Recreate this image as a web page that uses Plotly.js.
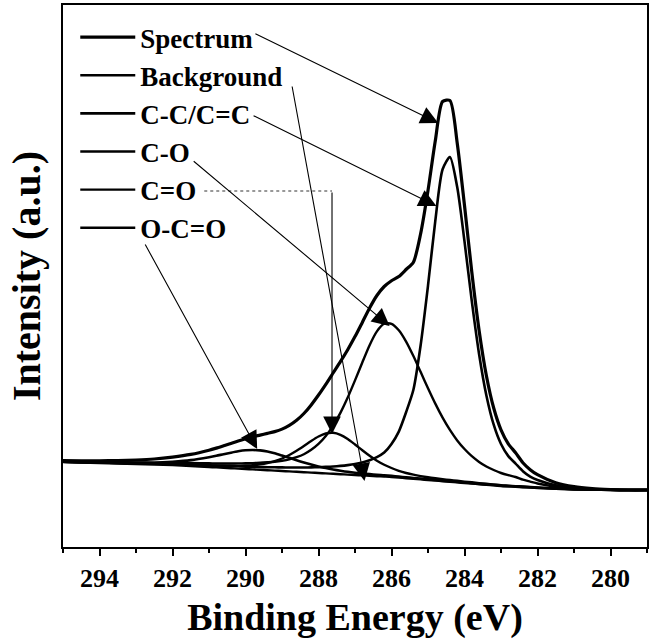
<!DOCTYPE html>
<html>
<head>
<meta charset="utf-8">
<script src="https://cdn.plot.ly/plotly-3.0.1.min.js"></script>
<style>html,body{margin:0;padding:0;background:#fff;}#chart{width:650px;height:644px;}</style>
</head>
<body>
<div id="chart"></div>
<script>
// Binding energy grid (eV)
const energy = [295,294.5,294,293.5,293,292.5,292,291.5,
  291.0,290.8,290.6,290.4,290.2,290.0,289.8,289.6,289.4,289.2,289.0,288.8,288.6,288.4,288.2,288.0,
  287.8,287.6,287.4,287.2,287.0,286.8,286.6,286.4,286.2,286.0,285.8,285.6,285.4,285.2,285.0,284.8,
  284.6,284.4,284.2,284.0,283.8,283.6,283.4,283.2,283.0,282.8,282.6,282.4,282.2,282.0,
  281.5,281.0,280.5,280.0,279.5,279.0];

// Intensities (a.u.)
const spectrum = [86.3,86.2,86.2,86.5,87.0,88.0,89.9,92.6,
  96.8,98.9,101.2,103.5,106.0,108.3,110.2,111.9,113.6,115.4,117.9,121.6,126.7,133.5,142.1,152.0,
  162.7,174.0,185.3,197.3,210.4,224.6,239.0,251.5,260.5,266.3,270.5,277.5,284.8,313.6,356.5,406.2,
  445.5,446.5,404.1,341.5,275.0,216.6,171.3,139.0,117.2,103.2,94.2,84.3,77.3,72.3,
  64.3,60.3,58.4,57.5,57.0,57.0];

const background = [85,84.5,84,83.5,83,82.5,82,81,
  80,79.6,79.2,78.8,78.4,78,77.6,77.2,76.8,76.4,76,75.6,75.2,74.8,74.4,74,
  73.6,73.2,72.8,72.4,72,71.6,71.2,70.8,70.4,70,69.4,68.8,68.2,67.6,67,66.4,
  65.8,65.2,64.6,64,63.4,62.8,62.2,61.6,61,60.6,60.2,59.8,59.4,59,
  58.2,57.5,57.2,57,57,57];

const ccPeak = [85.3,84.9,84.5,84.1,83.8,83.5,83.2,82.5,
  81.7,81.4,81.2,80.9,80.7,80.4,80.2,80.0,79.8,79.7,79.6,79.5,79.5,79.5,79.6,79.8,
  80.1,80.5,81.1,81.9,83.0,84.6,86.7,89.8,94.4,103.0,115.4,134.8,157.2,202.2,261.3,326.2,
  377.7,389.9,360.0,305.6,245.9,192.8,151.6,122.3,103.0,90.9,83.4,75.8,70.4,67.0,
  61.7,59.0,57.8,57.2,57,57];

const coPeak = [85.5,85.2,84.9,84.7,84.5,84.4,84.4,84.0,
  83.7,83.6,83.5,83.5,83.6,83.7,83.9,84.2,84.7,85.3,86.3,87.7,89.8,92.8,97.2,103.1,
  111.0,121.4,134.1,149.4,166.6,184.5,201.8,215.6,223.3,223.2,216.7,205.4,190.9,174.9,158.8,143.4,
  129.4,117.1,106.6,98.0,90.8,85.1,80.5,77.0,74.0,71.8,70.0,67.3,65.4,63.5,
  60.2,58.3,57.5,57.1,57,57];

const cdoPeak = [85.2,84.8,84.3,84.0,83.6,83.3,83.0,82.3,
  81.7,81.5,81.3,81.2,81.2,81.5,81.9,82.7,84.0,85.9,88.5,92.0,96.2,101.0,106.0,110.5,
  113.5,114.2,112.2,108.0,102.5,96.7,91.2,86.3,82.3,79.0,76.2,74.0,72.3,70.9,69.7,68.7,
  67.8,67.0,66.2,65.4,64.7,63.9,63.2,62.6,61.9,61.4,60.9,60.5,60.0,59.6,
  58.6,57.8,57.4,57.1,57,57];

const ocdoPeak = [85.3,84.9,84.5,84.2,84.1,84.3,85.3,86.9,
  89.8,91.2,92.8,94.3,95.7,96.7,97.0,96.6,95.5,93.7,91.5,89.2,86.8,84.6,82.5,80.6,
  78.9,77.5,76.3,75.2,74.3,73.6,72.9,72.2,71.7,71.1,70.4,69.7,69.0,68.4,67.7,67.1,
  66.4,65.8,65.1,64.5,63.9,63.2,62.6,62.0,61.4,60.9,60.5,60.1,59.7,59.3,
  58.4,57.7,57.3,57.1,57,57];

const seriesNames = ['Spectrum','Background','C-C/C=C','C-O','C=O','O-C=O'];
const seriesData = [spectrum, background, ccPeak, coPeak, cdoPeak, ocdoPeak];
const seriesWidths = [3.2, 2.4, 2.6, 2.4, 2.4, 2.6];

// Label arrows: [tip energy, tip intensity, tail energy, tail intensity]
const arrowTips = [
  [284.72, 424, 289.77, 514],
  [286.74, 66, 288.73, 462],
  [284.77, 341, 289.82, 432],
  [286.05, 221, 291.46, 387],
  [287.63, 113, 287.63, 356],
  [289.68, 98, 292.77, 304]
];
const cdoElbow = [[291.13, 356], [287.63, 356]];

const serif = 'Liberation Serif, Times New Roman, serif';

const traces = seriesNames.map((n, i) => ({
  x: energy, y: seriesData[i], type: 'scatter', mode: 'lines', name: n,
  line: {color: '#000', width: seriesWidths[i], shape: 'spline', smoothing: 0.7}
}));

const annotations = arrowTips.map(a => ({
  x: a[0], y: a[1], ax: a[2], ay: a[3], xref: 'x', yref: 'y', axref: 'x', ayref: 'y',
  text: '', showarrow: true, arrowhead: 2, arrowsize: 3.2, arrowwidth: 1.1, arrowcolor: '#000', standoff: 0
}));

const shapes = [{
  type: 'line', xref: 'x', yref: 'y',
  x0: cdoElbow[0][0], y0: cdoElbow[0][1], x1: cdoElbow[1][0], y1: cdoElbow[1][1],
  line: {color: '#333', width: 1.2, dash: 'dot'}
}];

const layout = {
  width: 650, height: 644,
  margin: {l: 63, r: 3, t: 5, b: 97},
  paper_bgcolor: '#fff', plot_bgcolor: '#fff',
  showlegend: true,
  legend: {x: 0.021, y: 0.985, xanchor: 'left', yanchor: 'top', bgcolor: 'rgba(0,0,0,0)',
    itemwidth: 55, font: {family: serif, size: 27, weight: 'bold', color: '#000'}},
  xaxis: {
    range: [295, 279], tick0: 0, dtick: 2, ticks: 'outside', ticklen: 7, tickwidth: 2, tickcolor: '#000',
    showline: true, linewidth: 2, linecolor: '#000', mirror: true, showgrid: false, zeroline: false,
    tickfont: {family: serif, size: 26, weight: 'bold', color: '#000'},
    minor: {tick0: 1, dtick: 2, ticks: 'outside', ticklen: 4, tickwidth: 2, tickcolor: '#000', showgrid: false},
    title: {text: 'Binding Energy (eV)', font: {family: serif, size: 38, weight: 'bold', color: '#000'}, standoff: 11}
  },
  yaxis: {
    range: [0, 542], showticklabels: false, ticks: '', showline: true, linewidth: 2, linecolor: '#000',
    mirror: true, showgrid: false, zeroline: false,
    title: {text: 'Intensity (a.u.)', font: {family: serif, size: 40, weight: 'bold', color: '#000'}, standoff: 8}
  },
  annotations: annotations,
  shapes: shapes
};

Plotly.newPlot('chart', traces, layout, {displayModeBar: false, staticPlot: true});
</script>
</body>
</html>
